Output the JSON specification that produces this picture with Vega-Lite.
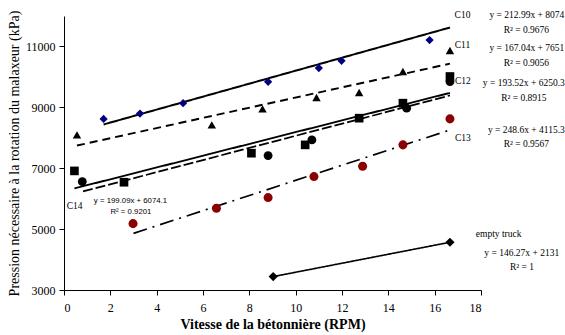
{
  "$schema": "https://vega.github.io/schema/vega-lite/v6.json",
  "width": 417,
  "height": 274,
  "autosize": {"type": "none"},
  "padding": {"left": 64, "top": 16, "right": 84, "bottom": 45},
  "background": "white",
  "config": {
    "view": {"stroke": null},
    "axis": {
      "grid": false,
      "domainColor": "black",
      "tickColor": "black",
      "labelColor": "black",
      "titleColor": "black",
      "labelFont": "Liberation Serif",
      "titleFont": "Liberation Serif",
      "labelFontSize": 12,
      "titleFontSize": 12,
      "tickSize": 5,
      "domainWidth": 1
    }
  },
  "datasets": {
    "points": [
      {"s": "C10", "x": 1.71, "y": 8620},
      {"s": "C10", "x": 3.28, "y": 8796},
      {"s": "C10", "x": 5.14, "y": 9137},
      {"s": "C10", "x": 8.81, "y": 9838},
      {"s": "C10", "x": 11.0, "y": 10288},
      {"s": "C10", "x": 11.98, "y": 10528},
      {"s": "C10", "x": 15.78, "y": 11208},
      {"s": "C11", "x": 0.56, "y": 8095},
      {"s": "C11", "x": 6.38, "y": 8424},
      {"s": "C11", "x": 8.57, "y": 8950},
      {"s": "C11", "x": 10.9, "y": 9322},
      {"s": "C11", "x": 12.74, "y": 9487},
      {"s": "C11", "x": 14.63, "y": 10177},
      {"s": "C11", "x": 16.66, "y": 10867},
      {"s": "C12", "x": 0.45, "y": 6912},
      {"s": "C12", "x": 2.59, "y": 6540},
      {"s": "C12", "x": 8.09, "y": 7494},
      {"s": "C12", "x": 10.41, "y": 7767},
      {"s": "C12", "x": 12.74, "y": 8644},
      {"s": "C12", "x": 14.63, "y": 9137},
      {"s": "C12", "x": 16.66, "y": 10013},
      {"s": "C14", "x": 0.79, "y": 6561},
      {"s": "C14", "x": 8.81, "y": 7415},
      {"s": "C14", "x": 10.7, "y": 7931},
      {"s": "C14", "x": 14.79, "y": 8972},
      {"s": "C14", "x": 16.66, "y": 9848},
      {"s": "C13", "x": 2.98, "y": 5180},
      {"s": "C13", "x": 6.58, "y": 5685},
      {"s": "C13", "x": 8.81, "y": 6035},
      {"s": "C13", "x": 10.79, "y": 6725},
      {"s": "C13", "x": 12.89, "y": 7066},
      {"s": "C13", "x": 14.63, "y": 7767},
      {"s": "C13", "x": 16.66, "y": 8621},
      {"s": "empty", "x": 9.03, "y": 3440},
      {"s": "empty", "x": 16.66, "y": 4568}
    ],
    "lines": [
      {"s": "C10", "x": 1.71, "y": 8438},
      {"s": "C10", "x": 16.66, "y": 11622},
      {"s": "C11", "x": 0.56, "y": 7745},
      {"s": "C11", "x": 16.66, "y": 10434},
      {"s": "C12", "x": 0.45, "y": 6337},
      {"s": "C12", "x": 16.66, "y": 9474},
      {"s": "C14", "x": 0.82, "y": 6237},
      {"s": "C14", "x": 16.66, "y": 9391},
      {"s": "C13", "x": 3.0, "y": 4861},
      {"s": "C13", "x": 16.66, "y": 8257},
      {"s": "empty", "x": 9.03, "y": 3440},
      {"s": "empty", "x": 16.66, "y": 4568}
    ],
    "labels": [
      {"f": "serif", "x": 17.2, "y": 12017, "t": "C10"},
      {"f": "serif", "x": 17.2, "y": 11054, "t": "C11"},
      {"f": "serif", "x": 17.22, "y": 9870, "t": "C12"},
      {"f": "serif", "x": 17.22, "y": 8007, "t": "C13"},
      {"f": "serif", "x": 0.46, "y": 5771, "t": "C14"},
      {"f": "sans", "x": 2.87, "y": 5936, "t": "y = 199.09x + 6074.1"},
      {"f": "sans", "x": 2.89, "y": 5574, "t": "R² = 0.9201"},
      {"f": "serif", "x": 19.98, "y": 12017, "t": "y = 212.99x + 8074"},
      {"f": "serif", "x": 19.96, "y": 11524, "t": "R² = 0.9676"},
      {"f": "serif", "x": 19.98, "y": 10945, "t": "y = 167.04x + 7651"},
      {"f": "serif", "x": 19.96, "y": 10472, "t": "R² = 0.9056"},
      {"f": "serif", "x": 19.85, "y": 9794, "t": "y = 193.52x + 6250.3"},
      {"f": "serif", "x": 19.85, "y": 9322, "t": "R² = 0.8915"},
      {"f": "serif", "x": 19.96, "y": 8260, "t": "y = 248.6x + 4115.3"},
      {"f": "serif", "x": 19.96, "y": 7790, "t": "R² = 0.9567"},
      {"f": "serif", "x": 18.76, "y": 4841, "t": "empty truck"},
      {"f": "serif", "x": 19.76, "y": 4226, "t": "y = 146.27x + 2131"},
      {"f": "serif", "x": 19.77, "y": 3746, "t": "R² = 1"}
    ]
  },
  "layer": [
    {
      "data": {"name": "lines"},
      "mark": {"type": "line", "color": "black", "clip": false},
      "encoding": {
        "x": {
          "field": "x", "type": "quantitative",
          "scale": {"domain": [0, 18], "nice": false, "zero": false},
          "axis": {"values": [0, 2, 4, 6, 8, 10, 12, 14, 16, 18], "title": "Vitesse de la bétonnière (RPM)", "titleFontWeight": "bold", "titleFontSize": 14, "labelPadding": 7, "titlePadding": 4}
        },
        "y": {
          "field": "y", "type": "quantitative",
          "scale": {"domain": [3000, 12000], "nice": false, "zero": false},
          "axis": {"values": [3000, 5000, 7000, 9000, 11000], "format": "d", "title": "Pression nécessaire à la rotation du malaxeur (kPa)", "titleFontWeight": "normal", "titleFontSize": 14, "labelPadding": 4, "titlePadding": 4}
        },
        "detail": {"field": "s"},
        "strokeDash": {
          "field": "s", "type": "nominal", "legend": null,
          "scale": {"domain": ["C10", "C11", "C12", "C14", "C13", "empty"],
                    "range": [[1, 0], [8, 5], [1, 0], [10, 3], [14, 6, 2, 6], [1, 0]]}
        },
        "strokeWidth": {
          "field": "s", "type": "nominal", "legend": null,
          "scale": {"domain": ["C10", "C11", "C12", "C14", "C13", "empty"],
                    "range": [2, 1.6, 2, 2.2, 2.4, 1]}
        }
      }
    },
    {
      "data": {"name": "points"},
      "mark": {"type": "point", "filled": true, "opacity": 1, "clip": false},
      "encoding": {
        "x": {"field": "x", "type": "quantitative"},
        "y": {"field": "y", "type": "quantitative"},
        "shape": {
          "field": "s", "type": "nominal", "legend": null,
          "scale": {"domain": ["C10", "C11", "C12", "C14", "C13", "empty"],
                    "range": ["diamond", "triangle-up", "square", "circle", "circle", "diamond"]}
        },
        "color": {
          "field": "s", "type": "nominal", "legend": null,
          "scale": {"domain": ["C10", "C11", "C12", "C14", "C13", "empty"],
                    "range": ["#00007f", "black", "black", "black", "#8b0000", "black"]}
        },
        "size": {
          "field": "s", "type": "nominal", "legend": null,
          "scale": {"domain": ["C10", "C11", "C12", "C14", "C13", "empty"],
                    "range": [68, 85, 72, 78, 80, 55]}
        }
      }
    },
    {
      "data": {"name": "labels"},
      "transform": [{"filter": "datum.f == 'serif'"}],
      "mark": {"type": "text", "font": "Liberation Serif", "fontSize": 9.5, "color": "black", "align": "center", "baseline": "middle", "clip": false},
      "encoding": {
        "x": {"field": "x", "type": "quantitative"},
        "y": {"field": "y", "type": "quantitative"},
        "text": {"field": "t"}
      }
    },
    {
      "data": {"name": "labels"},
      "transform": [{"filter": "datum.f == 'sans'"}],
      "mark": {"type": "text", "font": "Liberation Sans", "fontSize": 7.8, "color": "black", "align": "center", "baseline": "middle", "clip": false},
      "encoding": {
        "x": {"field": "x", "type": "quantitative"},
        "y": {"field": "y", "type": "quantitative"},
        "text": {"field": "t"}
      }
    }
  ]
}
